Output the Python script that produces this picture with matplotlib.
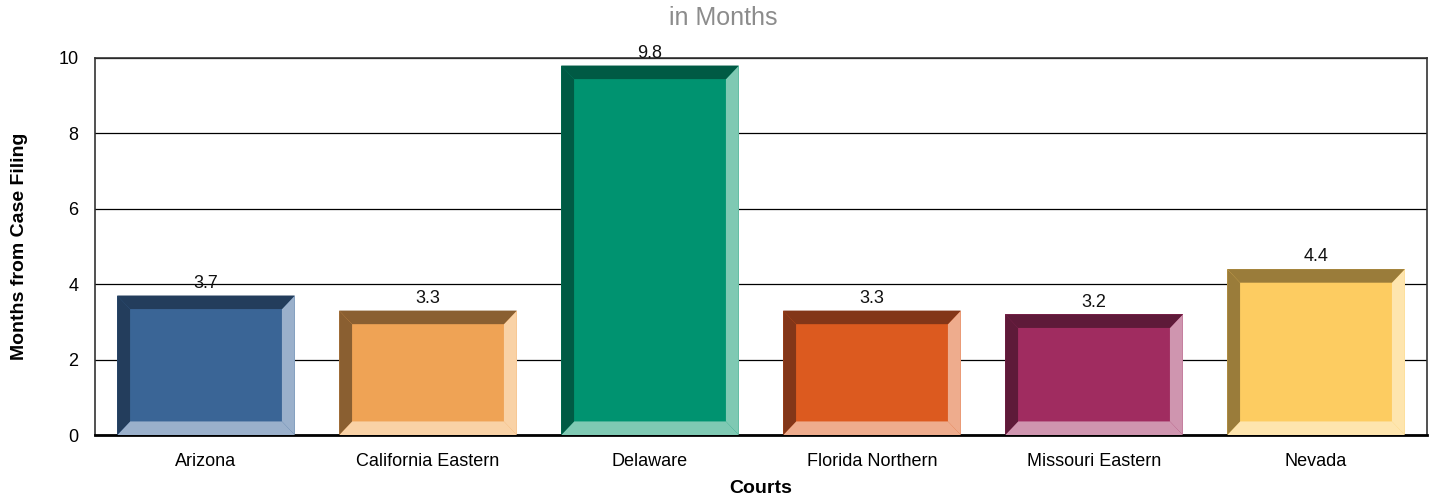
import matplotlib.pyplot as plt
from matplotlib.patches import Polygon

courts = ['Arizona', 'California Eastern', 'Delaware', 'Florida Northern', 'Missouri Eastern', 'Nevada']
months = [3.7, 3.3, 9.8, 3.3, 3.2, 4.4]

face_colors = ['#3A6596', '#EFA355', '#009370', '#DC5A1F', '#A02C60', '#FDCC61']
dark_colors = ['#233D5C', '#8A5F31', '#005A44', '#833618', '#5E1A39', '#9A7C3A']
light_colors = ['#9AB0CB', '#F9D2A6', '#7FC9B3', '#EEAC8D', '#CF95AF', '#FEE5AE']

plt.rcParams['font.family'] = ['Arial', 'Liberation Sans', 'DejaVu Sans']

fig = plt.figure(figsize=(14.31, 5), dpi=100)
ax = fig.add_axes([95 / 1431, 65 / 500, 1332 / 1431, 377 / 500])

width = 0.8
bx = 0.058   # bevel size in x data units
by = 0.36    # bevel size in y data units

ax.set_axisbelow(True)
ax.yaxis.grid(True, color='black', linewidth=0.9)

bars = ax.bar(range(len(courts)), months, width=width, color=face_colors, zorder=2)
for i, b in enumerate(bars):
    x0 = b.get_x()
    x1 = x0 + b.get_width()
    y0 = 0
    y1 = b.get_height()
    top = [(x0, y1), (x1, y1), (x1 - bx, y1 - by), (x0 + bx, y1 - by)]
    left = [(x0, y0), (x0, y1), (x0 + bx, y1 - by), (x0 + bx, y0 + by)]
    right = [(x1, y0), (x1, y1), (x1 - bx, y1 - by), (x1 - bx, y0 + by)]
    bottom = [(x0, y0), (x1, y0), (x1 - bx, y0 + by), (x0 + bx, y0 + by)]
    for pts, c in [(right, light_colors[i]), (bottom, light_colors[i]),
                   (top, dark_colors[i]), (left, dark_colors[i])]:
        ax.add_patch(Polygon(pts, closed=True, facecolor=c, edgecolor='none', zorder=3))
    ax.text(i, y1 + 0.1, f'{months[i]:.1f}', ha='center', va='bottom', fontsize=13, color='#111111')

ax.set_xlim(-0.5, 5.5)
ax.set_ylim(0, 10)
ax.set_yticks([0, 2, 4, 6, 8, 10])
ax.set_xticks(range(len(courts)))
ax.set_xticklabels(courts)
ax.tick_params(axis='both', length=0, labelsize=13)
ax.tick_params(axis='x', pad=13)
ax.tick_params(axis='y', pad=12)

for s in ['left', 'top', 'right']:
    ax.spines[s].set_color('#333333')
    ax.spines[s].set_linewidth(1.2)
ax.spines['bottom'].set_color('black')
ax.spines['bottom'].set_linewidth(2)

ax.set_xlabel('Courts', fontsize=14, fontweight='bold', labelpad=7)
ax.set_ylabel('Months from Case Filing', fontsize=14, fontweight='bold', labelpad=22)
fig.text(723 / 1431, 1 - 18 / 500, 'in Months', ha='center', va='center', fontsize=18, color='#8C8C8C')

fig.savefig('out.png', dpi=100)
